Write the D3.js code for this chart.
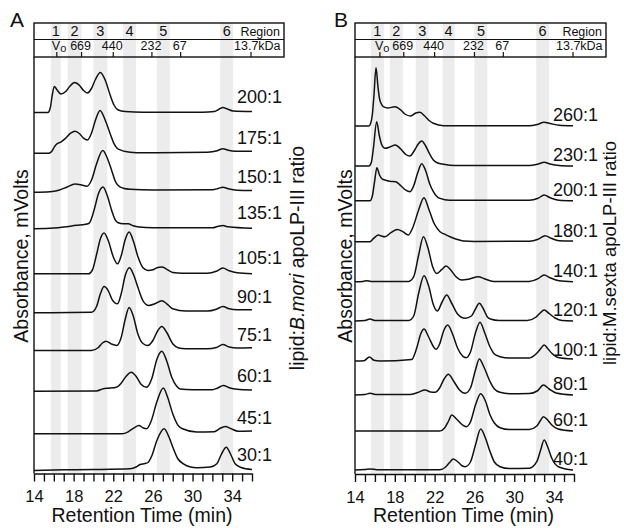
<!DOCTYPE html>
<html><head><meta charset="utf-8">
<script src="https://cdn.jsdelivr.net/npm/d3@7"></script>
<style>
body{margin:0;background:#fff}
text{font-family:"Liberation Sans",Arial,Helvetica,sans-serif;fill:#111}
</style>
</head><body>
<svg id="chart" width="624" height="528"></svg>
<script>
// ---------------- DATA ----------------
const regionLabels = ["1", "2", "3", "4", "5", "6"];
const kdaLabels = ["Vo", "669", "440", "232", "67", "13.7kDa"];
const xTickLabels = [14, 18, 22, 26, 30, 34];
const xMinorTicks = d3.range(14, 37, 1);

// Panel A: B. mori
const ratiosA = ["200:1", "175:1", "150:1", "135:1", "105:1", "90:1", "75:1", "60:1", "45:1", "30:1"];
const offsetsA = [361, 320.3, 281.3, 244.7, 199.7, 160.7, 123, 82.3, 39.7, 3];
const bandsA = [[15.7, 16.7], [17.4, 18.8], [20.0, 21.4], [23.0, 24.3], [26.4, 27.7], [32.8, 34.1]];
const kdaTimesA = [16.3, 18.8, 22.0, 25.9, 28.8, 35.9];
const tracesA = [
  [[14,0],[15.4,0],[15.65,5],[15.85,18],[16.05,26],[16.3,23],[16.7,18.5],[17.2,21],[17.6,26],[18.1,30],[18.6,27],[19.0,22],[19.4,19.5],[19.8,24],[20.2,33],[20.7,40],[21.2,32],[21.7,17],[22.1,7],[22.5,2.5],[23.2,1],[25,0.3],[31,0.3],[32.2,1],[32.7,3.5],[33.06,5],[33.5,3.5],[34.1,1.5],[36,1]],
  [[14,0],[15.5,0],[15.8,2],[16.1,7],[16.35,9.5],[16.7,11],[17.2,15],[17.7,20],[18.14,22],[18.6,19.5],[19.0,15],[19.39,13.3],[19.8,20],[20.2,33],[20.67,42.7],[21.15,34],[21.67,20],[22.1,9],[22.5,4],[23.7,1],[25,0.5],[31.5,1],[32.5,2.5],[33.06,4.5],[33.6,3],[34.3,2],[36,2]],
  [[14,0],[15.6,0.5],[16.5,2],[17.3,5],[18.14,8.3],[18.8,7.3],[19.33,6],[19.8,12],[20.3,28],[20.94,41.7],[21.4,34],[21.84,21.7],[22.2,11],[22.5,6.7],[23.0,4],[23.7,3],[26,2.3],[32,2.5],[32.6,3.8],[33.06,5],[33.6,3.5],[34.5,2],[36,1.7]],
  [[14,0],[16,0.7],[17,1.7],[18.3,3.5],[19.2,4.5],[19.6,6],[20.1,20],[20.5,35],[20.97,41.7],[21.4,33],[21.84,18.3],[22.2,9],[22.5,6],[23.0,5],[23.5,5],[24.0,3],[24.6,1.7],[26,1],[32,1],[32.6,2.5],[33.06,3.3],[33.6,2],[36,0.5]],
  [[14,0],[19.5,0],[19.9,4],[20.33,20],[20.7,35],[21.07,40.7],[21.5,33],[22.0,17],[22.42,10],[22.8,18],[23.2,34],[23.6,41.7],[24.05,32],[24.5,16.7],[25.0,6],[25.5,3.3],[26.0,4],[26.4,6],[26.9,6.7],[27.4,4.5],[28.0,1.3],[29,0.5],[31.5,0.5],[32.4,2.5],[33.06,5.7],[33.7,3],[34.5,1],[36,0]],
  [[14,0],[19.8,0.5],[20.3,6],[20.7,19],[21.07,26.3],[21.5,22],[21.9,13],[22.42,9],[22.8,19],[23.2,37],[23.63,45],[24.05,38],[24.5,25],[25.0,12],[25.6,7.3],[26.2,9],[26.9,12],[27.4,9],[28.0,4],[29.3,1.7],[31.5,1.7],[32.4,3.5],[33.06,6.3],[33.7,4],[34.5,3],[36,3]],
  [[14,0],[19.8,0],[20.5,3],[20.9,7.5],[21.27,9.3],[21.8,6.5],[22.35,5],[22.8,13],[23.2,31],[23.6,43],[24.0,35],[24.5,16],[25.0,7],[25.5,5],[26.0,10],[26.5,20],[26.9,24],[27.4,18],[28.0,6.7],[28.6,2.5],[29.3,1.7],[31.5,1.7],[32.4,3],[33.06,6],[33.7,3.5],[34.5,2.5],[36,2.7]],
  [[14,0],[20.3,0.3],[21.0,2.5],[21.5,3],[22.3,4],[22.8,8],[23.3,15],[23.8,19],[24.3,15],[24.8,7],[25.35,4],[25.9,13],[26.4,32],[26.9,40],[27.4,30],[27.9,14],[28.4,5],[28.75,2.3],[30,1.5],[32.0,1.5],[32.5,3],[33.1,5.7],[33.7,3.5],[34.5,2],[36,1.3]],
  [[14,0],[22.9,0],[23.5,2],[24.1,6],[24.6,8.3],[25.0,6],[25.36,5],[25.8,12],[26.4,32],[27.05,45.7],[27.5,36],[28.0,20],[28.5,9],[29.0,5],[30.4,1.7],[32.2,2],[32.7,5],[33.3,7.3],[33.9,5],[34.6,2.5],[36,2.7]],
  [[14,0],[17,0.7],[20,1],[23.7,1.7],[24.3,3.5],[24.7,6],[25.2,7],[25.5,8],[25.9,15],[26.4,30],[27.13,41.7],[27.6,34],[28.07,21.7],[28.5,12],[29.08,6.7],[29.8,3.5],[30.4,2.7],[31.8,3.5],[32.45,6.7],[32.9,16],[33.4,23.3],[33.9,15],[34.3,6.7],[34.9,3],[36,1]]
];

// Panel B: M. sexta
const ratiosB = ["260:1", "230:1", "200:1", "180:1", "140:1", "120:1", "100:1", "80:1", "60:1", "40:1"];
const offsetsB = [348, 308, 273.3, 232.3, 192.3, 153, 113, 79, 43, 4];
const bandsB = [[15.6, 16.9], [17.5, 18.8], [20.1, 21.4], [22.8, 24.0], [26.0, 27.3], [32.2, 33.5]];
const kdaTimesB = [16.5, 18.9, 22.0, 26.0, 28.9, 35.9];
const tracesB = [
  [[14,0],[15.4,0],[15.55,2],[15.75,12],[15.9,30],[16.11,58.3],[16.3,40],[16.45,28],[16.65,22],[16.85,19.3],[17.3,18],[18.0,19.3],[18.6,16],[19.0,12],[19.6,10],[20.1,13],[20.53,13.7],[21.0,10],[21.5,5],[21.87,2.7],[22.9,0.3],[31.5,0.3],[32.3,1.5],[33.0,3.7],[33.6,2.5],[34.5,0.8],[35.9,0.3]],
  [[14,0],[15.4,0],[15.65,4],[15.85,18],[16.18,44.3],[16.45,30],[16.7,21],[17.02,17.7],[17.5,19],[18.05,21],[18.6,17],[19.1,11.5],[19.5,10],[20.0,16],[20.35,22],[20.7,25],[21.1,20],[21.5,12],[21.87,6],[22.3,3],[22.9,1.7],[24,0.5],[31.5,0.5],[32.4,2],[33.0,3.7],[33.6,2],[34.5,0.5],[35.9,0]],
  [[14,0],[15.5,0],[15.75,5],[15.95,18],[16.2,33],[16.45,26],[16.75,21.5],[17.02,20.7],[17.5,19.5],[18.09,19],[18.6,15],[19.1,10.5],[19.53,9],[19.9,15],[20.3,28],[20.7,37],[21.1,30],[21.5,17],[21.87,9],[22.2,4.5],[22.54,2.3],[23.5,0.5],[31.5,0.5],[32.4,2.5],[33.0,5.7],[33.6,3],[34.5,0.5],[35.9,0]],
  [[14,0],[15.5,0],[15.84,3],[16.34,6.7],[16.7,5.5],[17.02,5],[17.6,9],[18.25,12.3],[18.8,10],[19.36,6.7],[19.8,14],[20.4,32],[20.93,44],[21.4,33],[21.87,20],[22.2,14],[22.54,10],[23.0,7.5],[23.55,5],[24.2,2.5],[24.89,0.7],[26,0.3],[31.5,0.5],[32.4,2.5],[33.1,6],[33.7,3.5],[34.5,1],[35.9,0.7]],
  [[14,0],[14.8,0.3],[15.17,1],[15.6,0.3],[19.4,0.3],[19.9,5],[20.4,27],[20.87,45],[21.35,33],[21.8,15],[22.21,8.3],[22.7,12],[23.15,15.7],[23.6,12],[24.1,5.5],[24.72,1.7],[25.4,2.5],[26.39,5],[27.0,3],[27.9,0.3],[31.5,0.3],[32.4,3],[33.0,6.7],[33.6,4],[34.5,1],[35.9,0]],
  [[14,0],[15.0,0.5],[15.51,2],[16.0,0.5],[19.4,0.5],[19.9,5],[20.4,28],[20.93,45.3],[21.4,35],[21.85,17],[22.27,10],[22.75,19],[23.21,26],[23.7,18],[24.3,7],[25.06,2.7],[25.7,5],[26.1,12],[26.49,17.7],[26.9,12],[27.3,4],[27.6,2],[28.5,0.5],[31.3,0.5],[32.2,4],[32.6,8],[33.0,11],[33.5,7.5],[34.1,3],[34.8,0.5],[35.9,0]],
  [[14,0],[14.9,0.3],[15.44,4],[15.9,0.8],[16.5,0],[19.69,1.5],[20.2,13],[20.6,27],[20.93,32],[21.4,24],[21.9,14],[22.14,11.7],[22.5,17],[22.9,30],[23.31,36],[23.8,27],[24.3,13],[24.8,5],[25.16,3.3],[25.6,9],[26.1,28],[26.56,38.7],[27.0,29],[27.57,14],[28.0,7],[28.57,4.3],[29.5,3],[31.5,3],[32.26,7.7],[32.7,13],[33.0,16],[33.4,12],[33.77,7.7],[34.4,3.5],[35.9,2]],
  [[14,0],[15.0,0.5],[15.51,1.7],[16.2,0.5],[19.5,0.5],[20.3,2.5],[21.04,5],[21.6,3],[22.04,2.7],[22.5,7],[22.95,16],[23.38,20.7],[23.9,14],[24.5,5],[25.06,1.7],[25.6,7],[26.1,25],[26.49,36],[26.95,28],[27.57,13.3],[28.0,6],[28.57,2.7],[29.5,1.3],[31.5,1.5],[32.3,4],[32.93,10],[33.5,6],[34.2,2],[35.9,0]],
  [[14,0],[22.5,0],[23.0,3],[23.4,10],[23.72,16],[24.2,12],[24.8,6],[25.16,4.3],[25.6,9],[26.1,26],[26.63,37.3],[27.1,30],[27.57,16],[28.0,8],[28.57,3.3],[29.5,1.5],[31.5,1.5],[32.26,5],[32.6,10],[32.93,14.3],[33.35,11],[33.77,6],[34.4,2],[35.9,0]],
  [[14,0],[15.0,0.5],[15.51,1],[16.2,0.3],[22.5,0.3],[23.1,3],[23.5,7.5],[23.88,11],[24.4,7.5],[24.8,4],[25.06,3.3],[25.6,8],[26.1,25],[26.63,41],[27.1,32],[27.57,18.3],[28.0,8],[28.57,3.3],[29.5,1.5],[31.5,1.8],[32.26,8.3],[32.65,20],[33.0,30],[33.4,22],[33.77,11.7],[34.43,3.3],[35.9,0]]
];

// ---------------- LAYOUT ----------------
const panels = [
  {letter: "A", ratios: ratiosA, offsets: offsetsA, traces: tracesA, bands: bandsA, kda: kdaTimesA,
   x0: 34, x1: 252, boxRight: 284, bottom: 473.5, labelX: 237, labelDy: -16,
   letterX: 10, absX: 28, rightX: 304, rightY: 258, rightSize: 19.5, species: "B.mori", speciesItalic: true},
  {letter: "B", ratios: ratiosB, offsets: offsetsB, traces: tracesB, bands: bandsB, kda: kdaTimesB,
   x0: 355, x1: 574, boxRight: 606, bottom: 474, labelX: 553, labelDy: -11.5,
   letterX: 334, absX: 352, rightX: 616, rightY: 253, rightSize: 18.5, species: "M.sexta", speciesItalic: false}
];
const boxTop = 23, boxMid = 39.5, plotTop = 57;

const svg = d3.select("#chart");
svg.append("rect").attr("width", 624).attr("height", 528).attr("fill", "#fff");

panels.forEach(p => {
  const x = d3.scaleLinear().domain([14, 36]).range([p.x0, p.x1]);
  const y = d3.scaleLinear().domain([0, 416]).range([p.bottom, p.bottom - 416]);
  const g = svg.append("g");

  // gray region bands
  g.selectAll("rect.band").data(p.bands).join("rect")
    .attr("x", d => x(d[0])).attr("width", d => x(d[1]) - x(d[0]))
    .attr("y", boxTop).attr("height", p.bottom - boxTop)
    .attr("fill", "#ececec");

  // header box
  g.append("rect").attr("x", p.x0).attr("y", boxTop)
    .attr("width", p.boxRight - p.x0).attr("height", plotTop - boxTop)
    .attr("fill", "none").attr("stroke", "#111").attr("stroke-width", 1.4);
  g.append("line").attr("x1", p.x0).attr("x2", p.boxRight)
    .attr("y1", boxMid).attr("y2", boxMid).attr("stroke", "#111").attr("stroke-width", 1.2);

  // region numbers
  g.selectAll("text.reg").data(p.bands).join("text")
    .attr("x", d => x((d[0] + d[1]) / 2)).attr("y", 36)
    .attr("text-anchor", "middle").attr("font-size", 14.5)
    .text((d, i) => regionLabels[i]);
  g.append("text").attr("x", p.boxRight - 4).attr("y", 36)
    .attr("text-anchor", "end").attr("font-size", 12.5).text("Region");

  // kDa markers
  p.kda.forEach((t, i) => {
    const xx = x(t);
    g.append("line").attr("x1", xx).attr("x2", xx).attr("y1", plotTop - 5).attr("y2", plotTop)
      .attr("stroke", "#111").attr("stroke-width", 1.2);
    const lab = kdaLabels[i];
    if (lab === "Vo") {
      const tx = g.append("text").attr("x", xx - 5).attr("y", 50).attr("font-size", 12.5);
      tx.append("tspan").text("V");
      tx.append("tspan").attr("dy", 2).attr("font-size", 11).text("o");
    } else if (lab.indexOf("kDa") >= 0) {
      g.append("text").attr("x", xx - 17).attr("y", 50).attr("font-size", 12.5).text(lab);
    } else {
      g.append("text").attr("x", xx - 1).attr("y", 50).attr("text-anchor", "middle")
        .attr("font-size", 12.5).text(lab);
    }
  });

  // traces
  const line = d3.line().x(d => x(d[0])).curve(d3.curveMonotoneX);
  p.traces.forEach((tr, i) => {
    g.append("path")
      .attr("d", line.y(d => y(p.offsets[i] + d[1]))(tr))
      .attr("fill", "none").attr("stroke", "#111").attr("stroke-width", 1.5)
      .attr("stroke-linejoin", "round");
    g.append("text").attr("x", p.labelX).attr("y", y(p.offsets[i]) + p.labelDy + 6.5)
      .attr("font-size", 18).text(p.ratios[i]);
  });

  // axes
  const xAxis = d3.axisBottom(x).tickValues(xMinorTicks).tickSize(8).tickSizeOuter(0)
    .tickPadding(9).tickFormat(d => xTickLabels.includes(d) ? d : "");
  const ax = g.append("g").attr("transform", `translate(0,${p.bottom})`).call(xAxis);
  ax.selectAll("path,line").attr("stroke", "#111").attr("stroke-width", 1.4);
  ax.selectAll("text").attr("font-size", 16.5).attr("fill", "#111")
    .attr("font-family", '"Liberation Sans",Arial,sans-serif');

  const yAxis = d3.axisLeft(y).tickValues([]).tickSizeOuter(0);
  const ay = g.append("g").attr("transform", `translate(${p.x0},0)`).call(yAxis);
  ay.select("path").attr("stroke", "#111").attr("stroke-width", 1.4)
    .attr("d", `M0,${plotTop}V${p.bottom}`);

  // titles
  g.append("text").attr("x", (p.x0 + p.x1) / 2 - 1).attr("y", 522)
    .attr("text-anchor", "middle").attr("font-size", 19.5).text("Retention Time (min)");
  g.append("text").attr("transform", `translate(${p.absX},256) rotate(-90)`)
    .attr("text-anchor", "middle").attr("font-size", 19.5).text("Absorbance, mVolts");
  const rt = g.append("text").attr("transform", `translate(${p.rightX},${p.rightY}) rotate(-90)`)
    .attr("text-anchor", "middle").attr("font-size", p.rightSize);
  rt.append("tspan").text("lipid:");
  rt.append("tspan").attr("font-style", p.speciesItalic ? "italic" : "normal").text(p.species);
  rt.append("tspan").text(" apoLP-III ratio");

  g.append("text").attr("x", p.letterX).attr("y", 27).attr("font-size", 21).text(p.letter);
});
</script>
</body></html>
